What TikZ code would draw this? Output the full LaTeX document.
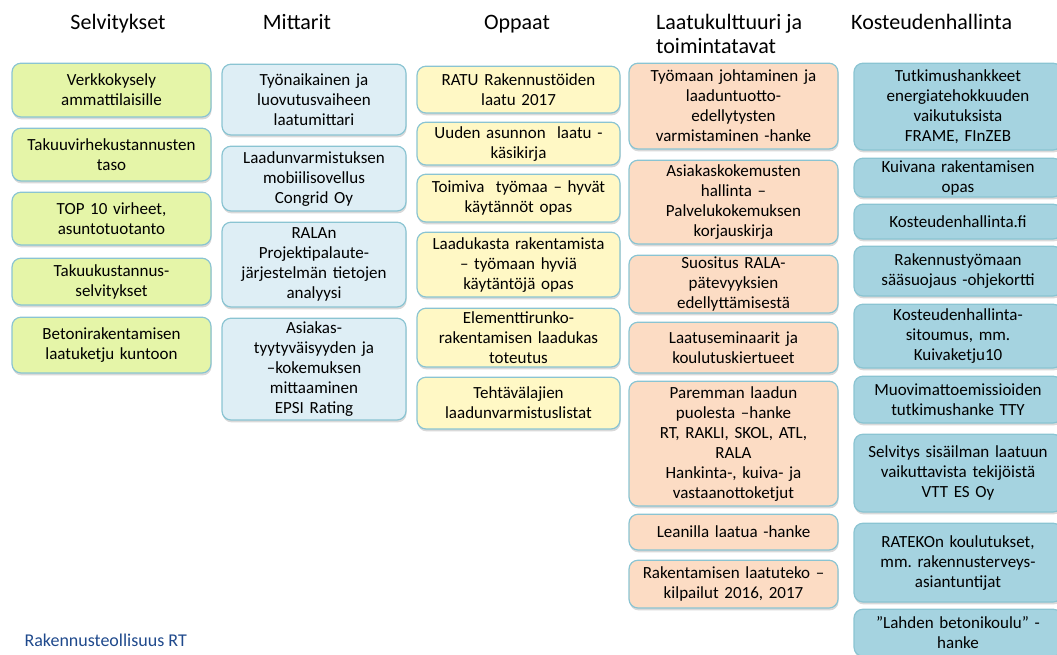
\documentclass[tikz,border=0pt]{standalone}
\usepackage{fontspec}
\setmainfont{Carlito}
\usetikzlibrary{positioning}
\usetikzlibrary{shadows}
\definecolor{edgeblue}{RGB}{138,196,210}
\definecolor{selvgreen}{RGB}{229,245,168}
\definecolor{mittblue}{RGB}{222,238,245}
\definecolor{opasyellow}{RGB}{255,248,197}
\definecolor{laatupeach}{RGB}{252,220,196}
\definecolor{kostteal}{RGB}{165,211,224}
\definecolor{rtblue}{RGB}{31,73,140}
\frenchspacing

\begin{document}
\begin{tikzpicture}[
            x = 1pt, y = -1pt, % pixel-like units
            node distance = 10pt, % gap between boxes
            every node/.style = {font=\fontsize{17}{20}\selectfont, text=black}
            ]

        \tikzstyle{box}=[
            draw = edgeblue,
            line width = 1.2pt,
            rounded corners = 9pt,
            align = center,
            inner xsep = 3pt,
            inner ysep = 1pt,
            drop shadow = {shadow xshift=0.6pt, shadow yshift=-2.4pt, opacity=0.25, fill=black!60}
        ]
        \tikzstyle{head}=[
            font = \fontsize{22}{24}\selectfont,
            text = black,
            inner sep = 2pt
        ]

        \useasboundingbox (0,0) rectangle (1057,654);

	% column headings
	\node[head, anchor=base] (HS) at (118,29) {Selvitykset};
	\node[head, anchor=base] (HM) at (297,29) {Mittarit};
	\node[head, anchor=base] (HO) at (517,29) {Oppaat};
	\node[head, align=left, anchor=west] (HL) at (654,34) {Laatukulttuuri ja\\toimintatavat};
	\node[head, anchor=base west] (HK) at (849,29) {Kosteudenhallinta};

        % selvitykset
         \node[box, fill=selvgreen, text width=193pt, minimum height=53.8pt, anchor=north] (S1) at (111.5,62.6) {Verkkokysely\\ammattilaisille};
         \node[box, fill=selvgreen, text width=193pt, minimum height=52.8pt] (S2) [below =10pt of S1] {Takuuvirhekustannusten\\taso};
         \node[box, fill=selvgreen, text width=193pt, minimum height=52.8pt] (S3) [below =10pt of S2] {TOP 10 virheet,\\asuntotuotanto};
         \node[box, fill=selvgreen, text width=193pt, minimum height=46.8pt] (S4) [below =12pt of S3] {Takuukustannus-\\selvitykset};
         \node[box, fill=selvgreen, text width=193pt, minimum height=55.8pt] (S5) [below =11pt of S4] {Betonirakentamisen\\laatuketju kuntoon};

        % mittarit
         \node[box, fill=mittblue, text width=178pt, minimum height=70.8pt, anchor=north] (M1) at (314,63.6) {Työnaikainen ja\\luovutusvaiheen\\laatumittari};
         \node[box, fill=mittblue, text width=178pt, minimum height=64.8pt] (M2) [below =10pt of M1] {Laadunvarmistuksen\\mobiilisovellus\\Congrid Oy};
         \node[box, fill=mittblue, text width=178pt, minimum height=84.8pt] (M3) [below =10pt of M2] {RALAn\\Projektipalaute-\\järjestelmän tietojen\\analyysi};
         \node[box, fill=mittblue, text width=178pt, minimum height=101.8pt] (M4) [below =10pt of M3] {Asiakas-\\tyytyväisyyden ja\\–kokemuksen\\mittaaminen\\EPSI Rating};

        % oppaat
         \node[box, fill=opasyellow, text width=197pt, minimum height=46.8pt, anchor=north] (O1) at (518.5,65.6) {RATU Rakennustöiden\\laatu 2017};
         \node[box, fill=opasyellow, text width=197pt, minimum height=42.8pt] (O2) [below =8pt of O1] {Uuden asunnon\ \ laatu -\\käsikirja};
         \node[box, fill=opasyellow, text width=197pt, minimum height=47.8pt] (O3) [below =8pt of O2] {Toimiva\ \ työmaa – hyvät\\käytännöt opas};
         \node[box, fill=opasyellow, text width=197pt, minimum height=64.8pt] (O4) [below =9pt of O3] {Laadukasta rakentamista\\– työmaan hyviä\\käytäntöjä opas};
         \node[box, fill=opasyellow, text width=197pt, minimum height=58.8pt] (O5) [below =10pt of O4] {Elementtirunko-\\rakentamisen laadukas\\toteutus};
         \node[box, fill=opasyellow, text width=197pt, minimum height=51.8pt] (O6) [below =9pt of O5] {Tehtävälajien\\laadunvarmistuslistat};

        % laatukulttuuri ja toimintatavat
         \node[box, fill=laatupeach, text width=203pt, minimum height=85.8pt, anchor=north] (L1) at (733.5,62.6) {Työmaan johtaminen ja\\laaduntuotto-\\edellytysten\\varmistaminen -hanke};
         \node[box, fill=laatupeach, text width=203pt, minimum height=83.8pt] (L2) [below =10pt of L1] {Asiakaskokemusten\\hallinta –\\Palvelukokemuksen\\korjauskirja};
         \node[box, fill=laatupeach, text width=203pt, minimum height=57.8pt] (L3) [below =10pt of L2] {Suositus RALA-\\pätevyyksien\\edellyttämisestä};
         \node[box, fill=laatupeach, text width=203pt, minimum height=50.8pt] (L4) [below =8pt of L3] {Laatuseminaarit ja\\koulutuskiertueet};
         \node[box, fill=laatupeach, text width=203pt, minimum height=124.8pt] (L5) [below =7pt of L4] {Paremman laadun\\puolesta –hanke\\RT, RAKLI, SKOL, ATL,\\RALA\\Hankinta-, kuiva- ja\\vastaanottoketjut};
         \node[box, fill=laatupeach, text width=203pt, minimum height=35.8pt] (L6) [below =7pt of L5] {Leanilla laatua -hanke};
         \node[box, fill=laatupeach, text width=203pt, minimum height=47.8pt] (L7) [below =9pt of L6] {Rakentamisen laatuteko –\\kilpailut 2016, 2017};

        % kosteudenhallinta
         \node[box, fill=kostteal, text width=202pt, minimum height=86.8pt, anchor=north] (K1) at (958,62.6) {Tutkimushankkeet\\energiatehokkuuden\\vaikutuksista\\FRAME, FInZEB};
         \node[box, fill=kostteal, text width=202pt, minimum height=38.8pt] (K2) [below =7pt of K1] {Kuivana rakentamisen\\opas};
         \node[box, fill=kostteal, text width=202pt, minimum height=34.8pt] (K3) [below =6pt of K2] {Kosteudenhallinta.fi};
         \node[box, fill=kostteal, text width=202pt, minimum height=49.8pt] (K4) [below =6pt of K3] {Rakennustyömaan\\sääsuojaus -ohjekortti};
         \node[box, fill=kostteal, text width=202pt, minimum height=63.8pt] (K5) [below =7pt of K4] {Kosteudenhallinta-\\sitoumus, mm.\\Kuivaketju10};
         \node[box, fill=kostteal, text width=202pt, minimum height=46.8pt] (K6) [below =7pt of K5] {Muovimattoemissioiden\\tutkimushanke TTY};
         \node[box, fill=kostteal, text width=202pt, minimum height=77.8pt] (K7) [below =10pt of K6] {Selvitys sisäilman laatuun\\vaikuttavista tekijöistä\\VTT ES Oy};
         \node[box, fill=kostteal, text width=202pt, minimum height=78.8pt] (K8) [below =10pt of K7] {RATEKOn koulutukset,\\mm. rakennusterveys-\\asiantuntijat};
         \node[box, fill=kostteal, text width=202pt, minimum height=47pt] (K9) [below =6pt of K8] {”Lahden betonikoulu” -\\hanke};

        % footer
         \node[anchor=west, text=rtblue, font=\fontsize{18}{22}\selectfont] (RT) at (21,640) {Rakennusteollisuus RT};

  \end{tikzpicture}
\end{document}
